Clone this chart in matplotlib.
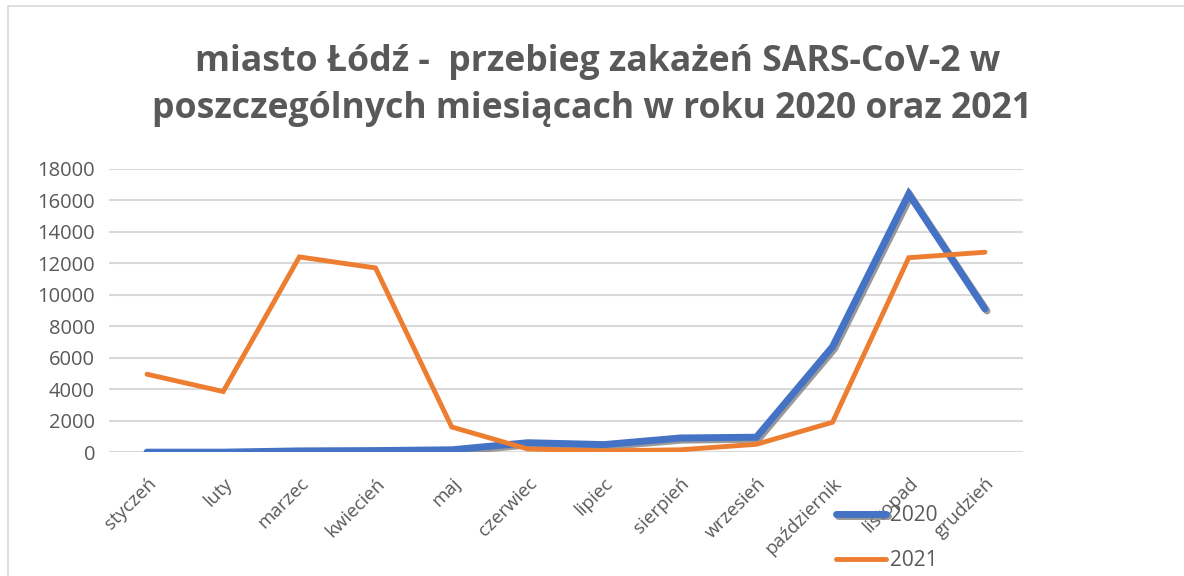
import matplotlib.pyplot as plt
import matplotlib.patheffects as pe
from matplotlib.patches import Rectangle

months = ["styczeń", "luty", "marzec", "kwiecień", "maj", "czerwiec", "lipiec",
          "sierpień", "wrzesień", "październik", "listopad", "grudzień"]
cases_2020 = [0, 0, 80, 100, 150, 600, 480, 900, 950, 6700, 16400, 9100]
cases_2021 = [4950, 3850, 12400, 11700, 1600, 200, 80, 150, 500, 1900, 12350, 12700]
yticks = [0, 2000, 4000, 6000, 8000, 10000, 12000, 14000, 16000, 18000]

plt.rcParams['font.family'] = ['Open Sans', 'DejaVu Sans']
grey = "#595959"

fig = plt.figure(figsize=(11.84, 5.76), dpi=100)
ax = fig.add_axes([0.092, 0.215, 0.772, 0.492])

x = range(len(months))
ax.plot(x, cases_2020, color="#4472C4", linewidth=5, label="2020",
        solid_capstyle="round", solid_joinstyle="miter",
        path_effects=[pe.SimpleLineShadow(offset=(1.5, -1.5), shadow_color="gray", alpha=0.8),
                      pe.Normal()])
ax.plot(x, cases_2021, color="#ED7D31", linewidth=3.5, label="2021",
        solid_capstyle="round", solid_joinstyle="miter")

ax.set_xlim(-0.5, 11.5)
ax.set_ylim(0, 18000)
ax.set_yticks(yticks)
ax.set_yticklabels([str(v) for v in yticks], fontsize=14.5, color=grey)
ax.set_xticks(list(x))
ax.set_xticklabels(months, rotation=45, ha="right", rotation_mode="anchor",
                   fontsize=13.5, color=grey)
ax.tick_params(length=0, pad=10)
ax.tick_params(axis="x", pad=16)
ax.grid(axis="y", color="#D9D9D9", linewidth=1.5)
ax.set_axisbelow(True)
for s in ax.spines.values():
    s.set_visible(False)

fig.text(0.505, 0.892, "miasto Łódź -  przebieg zakażeń SARS-CoV-2 w",
         ha="center", va="center", fontsize=25.7, fontweight="bold", color=grey)
fig.text(0.5, 0.81, "poszczególnych miesiącach w roku 2020 oraz 2021",
         ha="center", va="center", fontsize=25.7, fontweight="bold", color=grey)

leg = fig.legend(loc="upper left", bbox_to_anchor=(0.69, 0.155), frameon=False,
                 fontsize=15, labelspacing=1.15, handlelength=2.4, handletextpad=0.2,
                 labelcolor=grey)

fig.patches.append(Rectangle((0.007, -0.01), 1.0, 1.0, transform=fig.transFigure,
                             fill=False, edgecolor="#D9D9D9", linewidth=1.2))

fig.savefig("out.png", dpi=100)
